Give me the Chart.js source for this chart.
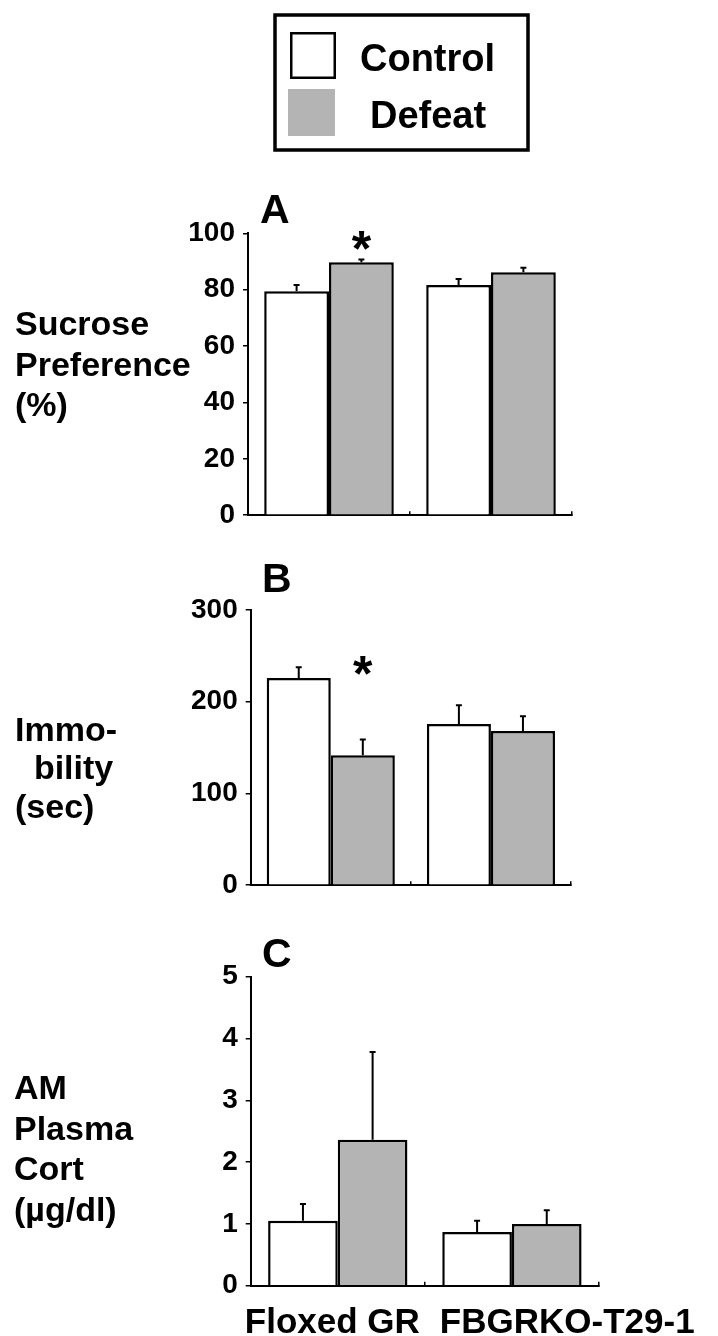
<!DOCTYPE html>
<html>
<head>
<meta charset="utf-8">
<script src="https://cdn.jsdelivr.net/npm/chart.js@4.4.1/dist/chart.umd.min.js"></script>
<style>
  body { margin: 0; background: #fff; width: 718px; height: 1336px; position: relative; overflow: hidden; }
  canvas { position: absolute; left: 0; }
</style>
</head>
<body>
<canvas id="chartA" width="718" height="540" style="top:0px"></canvas>
<canvas id="chartB" width="718" height="370" style="top:540px"></canvas>
<canvas id="chartC" width="718" height="426" style="top:910px"></canvas>
<script>
const groups = ["Floxed GR", "FBGRKO-T29-1"];
const seriesNames = ["Control", "Defeat"];

// A: sucrose preference (%)
const sucroseControl = [79.4, 81.7];
const sucroseDefeat = [89.7, 86.2];
const sucroseControlErr = [2.3, 2.1];
const sucroseDefeatErr = [1.0, 1.6];
const sucroseStars = [98.4, null]; // over the Defeat bar, per group

// B: immobility (sec)
const immobControl = [225.8, 175.8];
const immobDefeat = [141.7, 168.1];
const immobControlErr = [11.9, 20.4];
const immobDefeatErr = [17.2, 16.1];
const immobStars = [242, null];

// C: AM plasma cort (ug/dl)
const cortControl = [1.05, 0.87];
const cortDefeat = [2.36, 1.0];
const cortControlErr = [0.27, 0.18];
const cortDefeatErr = [1.42, 0.22];

const fonte = '"Liberation Sans", Arial, sans-serif';
const gray = "#b4b4b4";
Chart.defaults.font.family = fonte;
Chart.defaults.color = "#000";

const panelDecor = {
  id: "panelDecor",
  afterDatasetsDraw(chart, args, opts) {
    const ctx = chart.ctx;
    const y = chart.scales.y;
    const x = chart.scales.x;
    const top = opts.pageTop;
    ctx.save();
    // error bars (upper only)
    ctx.strokeStyle = "#000";
    ctx.lineWidth = 2;
    chart.data.datasets.forEach((ds, i) => {
      const meta = chart.getDatasetMeta(i);
      meta.data.forEach((bar, j) => {
        const yTop = y.getPixelForValue(ds.data[j] + opts.errors[i][j]);
        ctx.beginPath();
        ctx.moveTo(bar.x, bar.y);
        ctx.lineTo(bar.x, yTop);
        ctx.moveTo(bar.x - 3, yTop);
        ctx.lineTo(bar.x + 3, yTop);
        ctx.stroke();
      });
    });
    // significance stars
    ctx.fillStyle = "#000";
    ctx.textAlign = "center";
    ctx.textBaseline = "alphabetic";
    ctx.font = "bold 50px " + fonte;
    if (opts.stars) {
      const meta = chart.getDatasetMeta(1);
      opts.stars.forEach((v, j) => {
        if (v == null) return;
        ctx.fillText("*", meta.data[j].x, y.getPixelForValue(v) + 0.56 * 50);
      });
    }
    // panel letter
    ctx.textAlign = "left";
    ctx.font = "bold 41px " + fonte;
    ctx.fillText(opts.letter, opts.letterX, opts.letterY - top);
    // y title, horizontal lines at left
    ctx.font = "bold 34px " + fonte;
    opts.sideLines.forEach((t, k) => {
      ctx.fillText(t, opts.sideX, opts.sideY + k * opts.sideGap - top);
    });
    // group labels under the last panel
    if (opts.xLabels) {
      const mid = (x.getPixelForValue(0) + x.getPixelForValue(1)) / 2;
      const base = 1333 - top;
      ctx.font = "bold 35px " + fonte;
      ctx.textAlign = "right";
      ctx.fillText(chart.data.labels[0], mid - 5, base);
      ctx.textAlign = "left";
      ctx.fillText(chart.data.labels[1], mid + 15, base);
    }
    // boxed legend above the first panel
    if (opts.legend) {
      const ds = chart.data.datasets;
      ctx.lineWidth = 3.5;
      ctx.strokeRect(275, 15, 253, 135);
      ctx.fillStyle = ds[0].backgroundColor;
      ctx.fillRect(291, 33, 44, 45);
      ctx.lineWidth = 2.5;
      ctx.strokeRect(291.25, 33.25, 43.5, 44.5);
      ctx.fillStyle = ds[1].backgroundColor;
      ctx.fillRect(288, 89, 47, 47);
      ctx.fillStyle = "#000";
      ctx.font = "bold 38px " + fonte;
      ctx.fillText(ds[0].label, 360, 71);
      ctx.fillText(ds[1].label, 370, 128);
    }
    ctx.restore();
  },
};

function makePanel(id, cfg) {
  return new Chart(document.getElementById(id), {
    type: "bar",
    data: {
      labels: groups,
      datasets: [
        {
          label: seriesNames[0],
          data: cfg.control,
          backgroundColor: "#ffffff",
          borderColor: "#000",
          borderWidth: 2.5,
          categoryPercentage: 0.8,
          barPercentage: 1.0,
        },
        {
          label: seriesNames[1],
          data: cfg.defeat,
          backgroundColor: gray,
          borderColor: "#000",
          borderWidth: 2.5,
          categoryPercentage: 0.8,
          barPercentage: 1.0,
        },
      ],
    },
    options: {
      responsive: false,
      animation: false,
      layout: {
        padding: { top: cfg.padTop, right: cfg.padRight, left: 0, bottom: 0 },
      },
      plugins: {
        legend: { display: false },
        tooltip: { enabled: false },
        panelDecor: cfg.decor,
      },
      scales: {
        x: {
          afterFit: (scale) => { scale.height = cfg.xHeight; },
          border: { color: "#000", width: 2 },
          grid: {
            offset: true,
            drawOnChartArea: false,
            color: "#000",
            lineWidth: 1.5,
            tickLength: -4,
          },
          ticks: { display: false },
        },
        y: {
          min: 0,
          max: cfg.max,
          afterFit: (scale) => { scale.width = cfg.yWidth; },
          border: { color: "#000", width: 2 },
          grid: {
            drawOnChartArea: false,
            color: "#000",
            lineWidth: 1.5,
            tickLength: 5,
          },
          ticks: {
            stepSize: cfg.step,
            padding: 8,
            color: "#000",
            font: { size: 28, weight: "bold" },
          },
        },
      },
    },
    plugins: [panelDecor],
  });
}

makePanel("chartA", {
  control: sucroseControl,
  defeat: sucroseDefeat,
  max: 100,
  step: 20,
  padTop: 233.3,
  padRight: 146,
  yWidth: 248,
  xHeight: 18.7,
  decor: {
    pageTop: 0,
    errors: [sucroseControlErr, sucroseDefeatErr],
    stars: sucroseStars,
    letter: "A",
    letterX: 260,
    letterY: 223,
    sideLines: ["Sucrose", "Preference", "(%)"],
    sideX: 15,
    sideY: 335,
    sideGap: 40.5,
    legend: true,
  },
});

makePanel("chartB", {
  control: immobControl,
  defeat: immobDefeat,
  max: 300,
  step: 100,
  padTop: 70,
  padRight: 147,
  yWidth: 250.7,
  xHeight: 15.7,
  decor: {
    pageTop: 540,
    errors: [immobControlErr, immobDefeatErr],
    stars: immobStars,
    letter: "B",
    letterX: 262,
    letterY: 591.5,
    sideLines: ["Immo-", "  bility", "(sec)"],
    sideX: 15,
    sideY: 740.5,
    sideGap: 38.7,
  },
});

makePanel("chartC", {
  control: cortControl,
  defeat: cortDefeat,
  max: 5,
  step: 1,
  padTop: 66.7,
  padRight: 119,
  yWidth: 250.7,
  xHeight: 50.3,
  decor: {
    pageTop: 910,
    errors: [cortControlErr, cortDefeatErr],
    letter: "C",
    letterX: 262,
    letterY: 967,
    sideLines: ["AM", "Plasma", "Cort", "(\u00b5g/dl)"],
    sideX: 14,
    sideY: 1098.8,
    sideGap: 40.7,
    xLabels: true,
  },
});
</script>
</body>
</html>
